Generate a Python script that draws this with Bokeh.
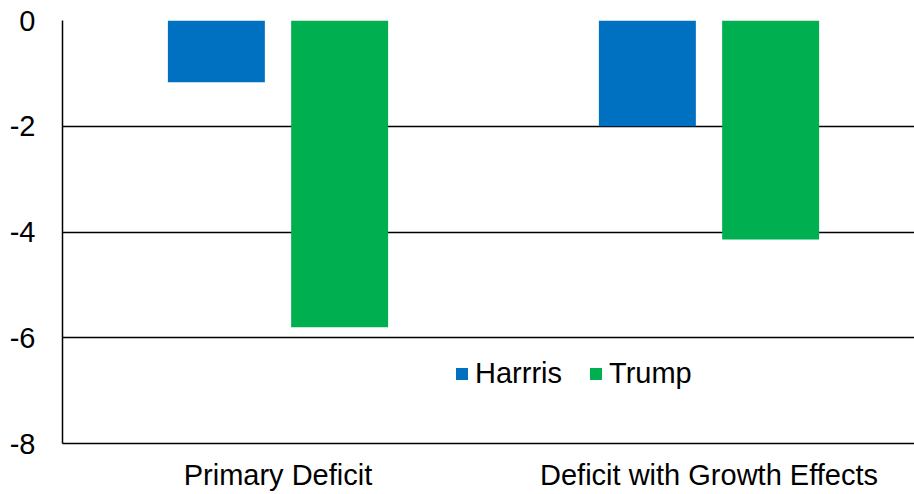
from bokeh.plotting import figure
from bokeh.models import ColumnDataSource, FixedTicker, Legend, LegendItem, Range1d
from bokeh.embed import file_html
from bokeh.resources import INLINE

# Change in deficit by scenario (percentage points)
categories = ["Primary Deficit", "Deficit with Growth Effects"]
harris = [-1.17, -2.0]
trump = [-5.8, -4.14]
y_ticks = [0, -2, -4, -6, -8]
y_tick_labels = ["0", "-2", "-4", "-6", "-8"]

HARRIS_COLOR = "#0070C0"
TRUMP_COLOR = "#00B050"
FONT = "Liberation Sans"
FONT_SIZE = "29px"

centers = [0.5, 1.5]
bar_w = 0.225
offset = 0.143

src_h = ColumnDataSource(dict(x=[c - offset for c in centers], top=[0] * len(harris), bottom=harris))
src_t = ColumnDataSource(dict(x=[c + offset for c in centers], top=[0] * len(trump), bottom=trump))

p = figure(width=914, height=494, output_backend="svg", toolbar_location=None,
           x_range=Range1d(0, 852 / 431), y_range=Range1d(-8, 0),
           min_border_left=62, min_border_right=0, min_border_top=20, min_border_bottom=51)
p.outline_line_color = None
p.background_fill_color = "white"
p.border_fill_color = "white"

r_h = p.vbar(x="x", top="top", bottom="bottom", width=bar_w, source=src_h,
             fill_color=HARRIS_COLOR, line_color=None)
r_t = p.vbar(x="x", top="top", bottom="bottom", width=bar_w, source=src_t,
             fill_color=TRUMP_COLOR, line_color=None)

# y axis, plain hyphen for negatives
p.yaxis.ticker = FixedTicker(ticks=y_ticks)
p.yaxis.major_label_overrides = {t: lab for t, lab in zip(y_ticks, y_tick_labels)}
p.yaxis.axis_line_color = "black"
p.yaxis.axis_line_width = 1.5
p.yaxis.major_tick_line_color = None
p.yaxis.minor_tick_line_color = None
p.yaxis.major_label_text_font = FONT
p.yaxis.major_label_text_font_size = FONT_SIZE
p.yaxis.major_label_text_color = "black"
p.yaxis.major_label_standoff = 21

# x axis with category labels
p.xaxis.ticker = FixedTicker(ticks=centers)
p.xaxis.major_label_overrides = {c: lab for c, lab in zip(centers, categories)}
p.xaxis.axis_line_color = "black"
p.xaxis.axis_line_width = 1.5
p.xaxis.major_tick_line_color = None
p.xaxis.minor_tick_line_color = None
p.xaxis.major_label_text_font = FONT
p.xaxis.major_label_text_font_size = FONT_SIZE
p.xaxis.major_label_text_color = "black"
p.xaxis.major_label_standoff = 9

p.xgrid.grid_line_color = None
p.ygrid.ticker = FixedTicker(ticks=y_ticks)
p.ygrid.grid_line_color = "black"
p.ygrid.grid_line_width = 1.5

legend = Legend(items=[LegendItem(label="Harrris", renderers=[r_h]),
                       LegendItem(label="Trump", renderers=[r_t])],
                orientation="horizontal", location=(392, 53))
legend.label_text_font = FONT
legend.label_text_font_size = FONT_SIZE
legend.label_text_color = "black"
legend.glyph_width = 15
legend.glyph_height = 15
legend.label_standoff = 6
legend.spacing = 26
legend.padding = 4
legend.border_line_color = None
legend.background_fill_alpha = 0
p.add_layout(legend)

open("out.html", "w").write(file_html(p, INLINE))
